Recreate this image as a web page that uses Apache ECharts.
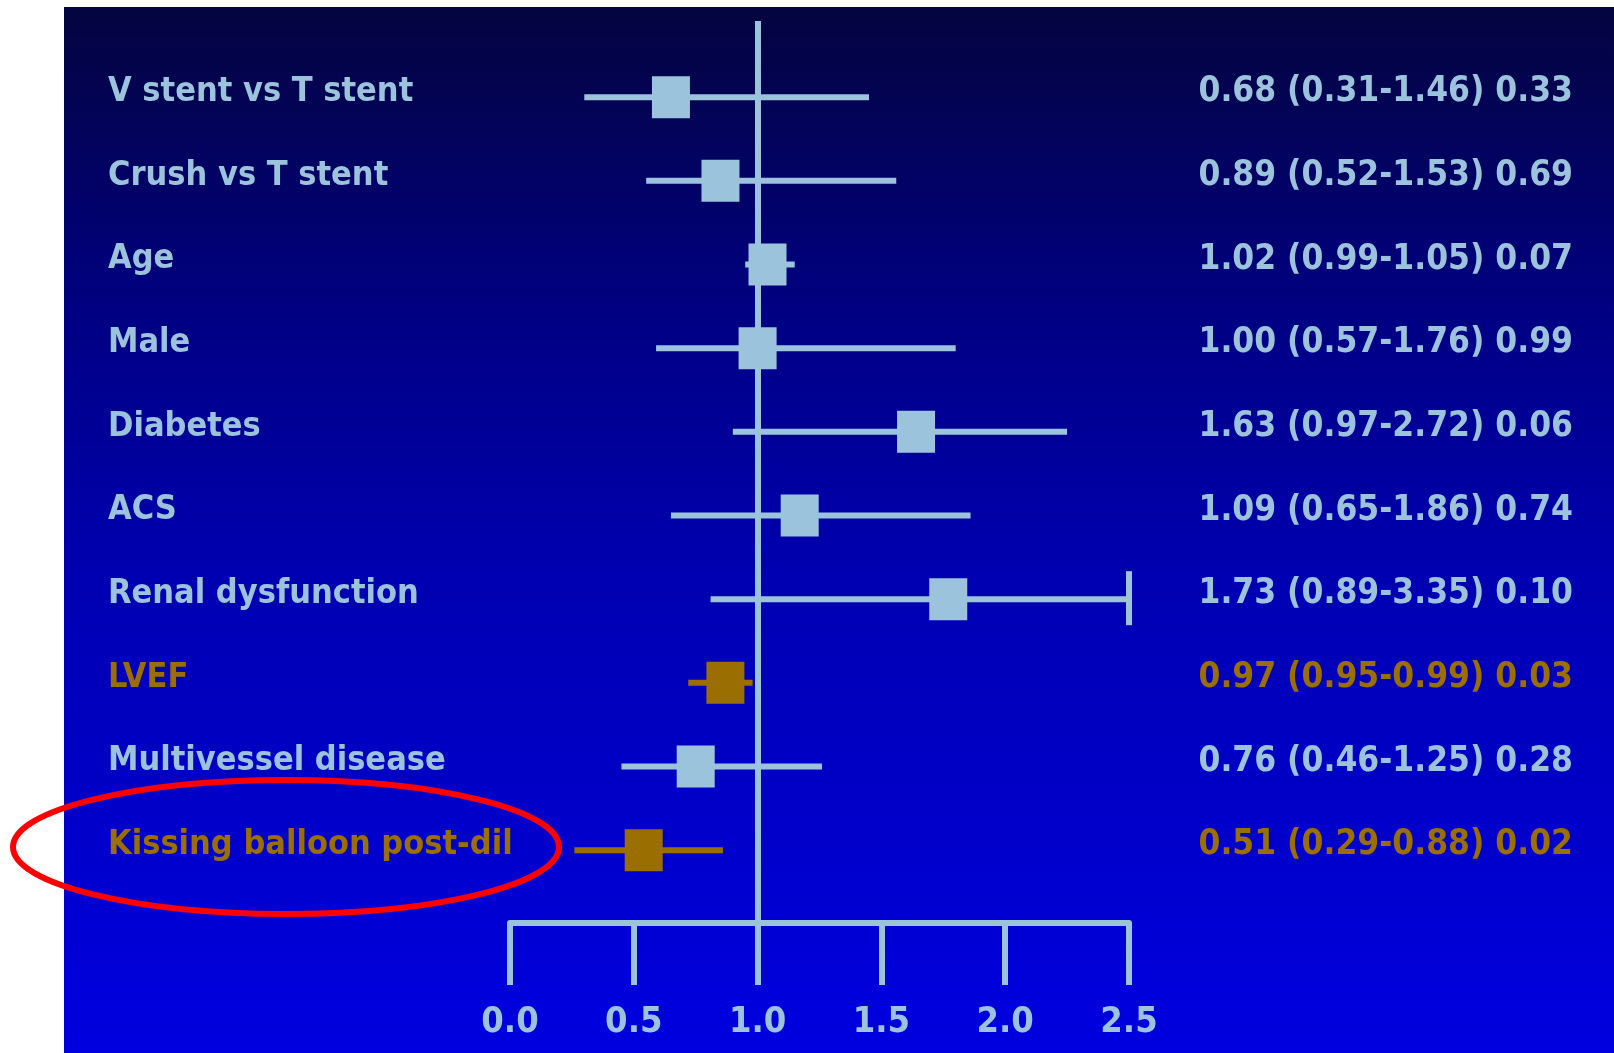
<!DOCTYPE html>
<html>
<head>
<meta charset="utf-8">
<title>Forest plot</title>
<script src="https://cdn.jsdelivr.net/npm/echarts@6/dist/echarts.min.js"></script>
<style>
html, body { margin: 0; padding: 0; background: #fff; }
#main { width: 1614px; height: 1053px; }
</style>
</head>
<body>
<div id="main"></div>
<script>
// rows, top to bottom
var factors = [
  'V stent vs T stent', 'Crush vs T stent', 'Age', 'Male', 'Diabetes',
  'ACS', 'Renal dysfunction', 'LVEF', 'Multivessel disease', 'Kissing balloon post-dil'
]
var resultText = [
  '0.68 (0.31-1.46) 0.33', '0.89 (0.52-1.53) 0.69', '1.02 (0.99-1.05) 0.07',
  '1.00 (0.57-1.76) 0.99', '1.63 (0.97-2.72) 0.06', '1.09 (0.65-1.86) 0.74',
  '1.73 (0.89-3.35) 0.10', '0.97 (0.95-0.99) 0.03', '0.76 (0.46-1.25) 0.28',
  '0.51 (0.29-0.88) 0.02'
]
// where the marks sit on the drawn scale
var hazard = [0.65, 0.85, 1.04, 1.00, 1.64, 1.17, 1.77, 0.87, 0.75, 0.54]
var ciLow = [0.30, 0.55, 0.95, 0.59, 0.90, 0.65, 0.81, 0.72, 0.45, 0.26]
var ciHigh = [1.45, 1.56, 1.15, 1.80, 2.25, 1.86, 3.35, 0.98, 1.26, 0.86]
var significant = [false, false, false, false, false, false, false, true, false, true]
var xTicks = [0, 0.5, 1.0, 1.5, 2.0, 2.5]

var LIGHT = '#9cc3dc'
var BROWN = '#9a6e00'
var X_MAX = xTicks[xTicks.length - 1]
var FAMILY = '"DejaVu Sans Condensed", "DejaVu Sans", sans-serif'
var LABEL_FONT = 'bold 34px ' + FAMILY
var RESULT_FONT = 'bold 35px ' + FAMILY

var rows = factors.map(function (name, i) {
  return [i, ciLow[i], ciHigh[i], hazard[i]]
})

var chart = echarts.init(document.getElementById('main'))

var option = {
  animation: false,
  backgroundColor: '#fff',
  graphic: [
    {
      type: 'rect',
      z: -10,
      silent: true,
      shape: { x: 64, y: 7, width: 1550, height: 1046 },
      style: {
        fill: new echarts.graphic.LinearGradient(0, 0, 0, 1, [
          { offset: 0, color: '#04043f' },
          { offset: 0.3, color: '#000084' },
          { offset: 0.55, color: '#0000b2' },
          { offset: 1, color: '#0000e0' }
        ])
      }
    },
    {
      // red highlight round the last row
      type: 'ellipse',
      z: 100,
      silent: true,
      shape: { cx: 286, cy: 847, rx: 273, ry: 67 },
      style: { fill: 'none', stroke: '#ff0000', lineWidth: 6 }
    }
  ],
  grid: {
    left: 510,
    right: 485,
    top: 21,
    bottom: 130
  },
  xAxis: {
    type: 'value',
    min: 0,
    max: X_MAX,
    interval: 0.5,
    axisLine: { show: true, onZero: false, lineStyle: { color: LIGHT, width: 6 } },
    axisTick: { show: true, length: 62, lineStyle: { color: LIGHT, width: 6 } },
    axisLabel: {
      color: LIGHT,
      fontSize: 36,
      fontWeight: 'bold',
      fontFamily: FAMILY,
      margin: 82,
      formatter: function (v) { return v.toFixed(1) }
    },
    splitLine: { show: false }
  },
  yAxis: {
    type: 'value',
    inverse: true,
    min: -0.91,
    max: 9.87,
    show: false,
    splitLine: { show: false }
  },
  series: [
    {
      type: 'custom',
      clip: false,
      data: rows,
      renderItem: function (params, api) {
        var i = api.value(0)
        var y = api.coord([0, i])[1]
        var hiVal = api.value(2)
        var x1 = api.coord([api.value(1), i])[0]
        var x2 = api.coord([Math.min(hiVal, X_MAX), i])[0]
        var xm = api.coord([api.value(3), i])[0]
        var color = significant[i] ? BROWN : LIGHT
        var children = [
          {
            type: 'line',
            shape: { x1: x1, y1: y, x2: x2, y2: y },
            style: { stroke: color, lineWidth: 6 }
          },
          {
            type: 'rect',
            shape: { x: xm - 19, y: y - 21, width: 38, height: 42 },
            style: { fill: color }
          },
          {
            type: 'text',
            style: {
              text: factors[i], x: 108, y: y - 5,
              fill: color, font: LABEL_FONT, verticalAlign: 'middle'
            }
          },
          {
            type: 'text',
            style: {
              text: resultText[i], x: 1573, y: y - 5,
              fill: color, font: RESULT_FONT, align: 'right', verticalAlign: 'middle'
            }
          }
        ]
        // interval runs off the axis: close it with an end bar
        if (hiVal > X_MAX) {
          children.push({
            type: 'line',
            shape: { x1: x2, y1: y - 28, x2: x2, y2: y + 26 },
            style: { stroke: color, lineWidth: 6 }
          })
        }
        return { type: 'group', children: children }
      },
      markLine: {
        silent: true,
        symbol: 'none',
        label: { show: false },
        lineStyle: { color: LIGHT, width: 6, type: 'solid' },
        data: [{ xAxis: 1 }]
      }
    }
  ]
}

chart.setOption(option)
</script>
</body>
</html>
